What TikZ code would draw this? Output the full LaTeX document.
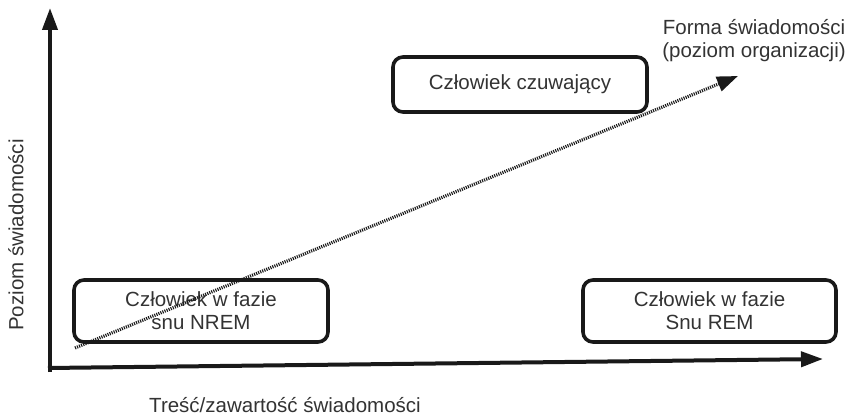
\documentclass[tikz,border=0pt]{standalone}
\usepackage{fontspec}
\setmainfont{Liberation Sans}
\usetikzlibrary{arrows.meta}
\begin{document}
\begin{tikzpicture}[x=1pt,y=-1pt,
  every node/.style={font=\fontsize{20.5}{23}\selectfont, text=black!80},
  statebox/.style={draw=black!90, line width=3.6pt, rounded corners=10pt, align=center, inner sep=0pt},
  axis/.style={draw=black!90, line width=4pt, -{Triangle[width=15pt,length=22pt]}},
  trend/.style={draw=black!90, line width=3.2pt, dash pattern=on 1.1pt off 1.1pt, -{Triangle[width=15pt,length=21pt]}}]
\useasboundingbox (0,0) rectangle (851,419);
\coordinate (vbot) at (50,372);
\coordinate (vtop) at (50,8);
\coordinate (hleft) at (48,368);
\coordinate (hright) at (823,359);
\coordinate (tstart) at (75,348);
\coordinate (tend) at (738,76);
\draw[axis] (vbot) -- (vtop);
\draw[axis] (hleft) -- (hright);
\node[statebox, minimum width=254pt, minimum height=55pt] (wake) at (520,84.5) {Człowiek czuwający};
\node[statebox, minimum width=254pt, minimum height=62pt] (nrem) at (201,311) {Człowiek w fazie\\snu NREM};
\node[statebox, minimum width=253pt, minimum height=62pt] (rem) at (709.5,311) {Człowiek w fazie\\Snu REM};
\draw[trend] (tstart) -- (tend);
\node[align=center] (forma) at (754,41) {Forma świadomości\\(poziom organizacji)};
\node[rotate=90] (ylab) at (16,235) {Poziom świadomości};
\node (xlab) at (285,405) {Treść/zawartość świadomości};
\end{tikzpicture}
\end{document}
